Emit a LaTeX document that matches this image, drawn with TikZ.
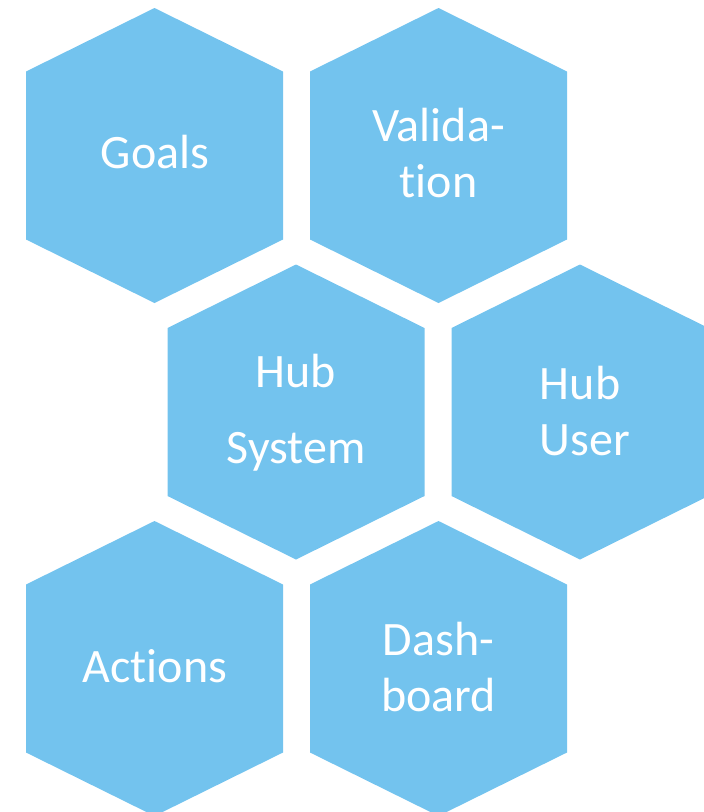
\documentclass[tikz,border=0pt]{standalone}
\usepackage{fontspec}
\setmainfont{Carlito}[Ligatures=NoCommon]
\definecolor{hexblue}{RGB}{115,195,238}
\tikzset{
  hexcell/.style={fill=hexblue},
  hexlabel/.style={text=white, font=\fontsize{48}{56}\selectfont, align=center, anchor=base, inner sep=0pt},
}
\begin{document}
\begin{tikzpicture}[x=1pt,y=-1pt]
\useasboundingbox (0,0) rectangle (704,812);
\clip (0,0) rectangle (704,812);

% hexagon cells
\foreach \cx/\cy in {154.5/155.5, 438.5/155.5, 296/412, 580/412, 154.5/668.5, 438.5/668.5}
  \fill[hexcell] (\cx,\cy) +(0,-147.5) -- +(128.5,-84) -- +(128.5,84) -- +(0,147.5) -- +(-128.5,84) -- +(-128.5,-84) -- cycle;

% labels (base = last line)
\node[hexlabel] (goals) at (155,168) {Goals};
\node[hexlabel] (validation) at (438.5,197.5) {Valida-\\tion};
\node[hexlabel] (hubsystem) at (296,463) {Hub\\[20pt]System};
\node[hexlabel, align=left] (hubuser) at (585,455) {Hub\\User};
\node[hexlabel] (actions) at (155,682) {Actions};
\node[hexlabel] (dashboard) at (438.5,711) {Dash-\\board};

\end{tikzpicture}
\end{document}
